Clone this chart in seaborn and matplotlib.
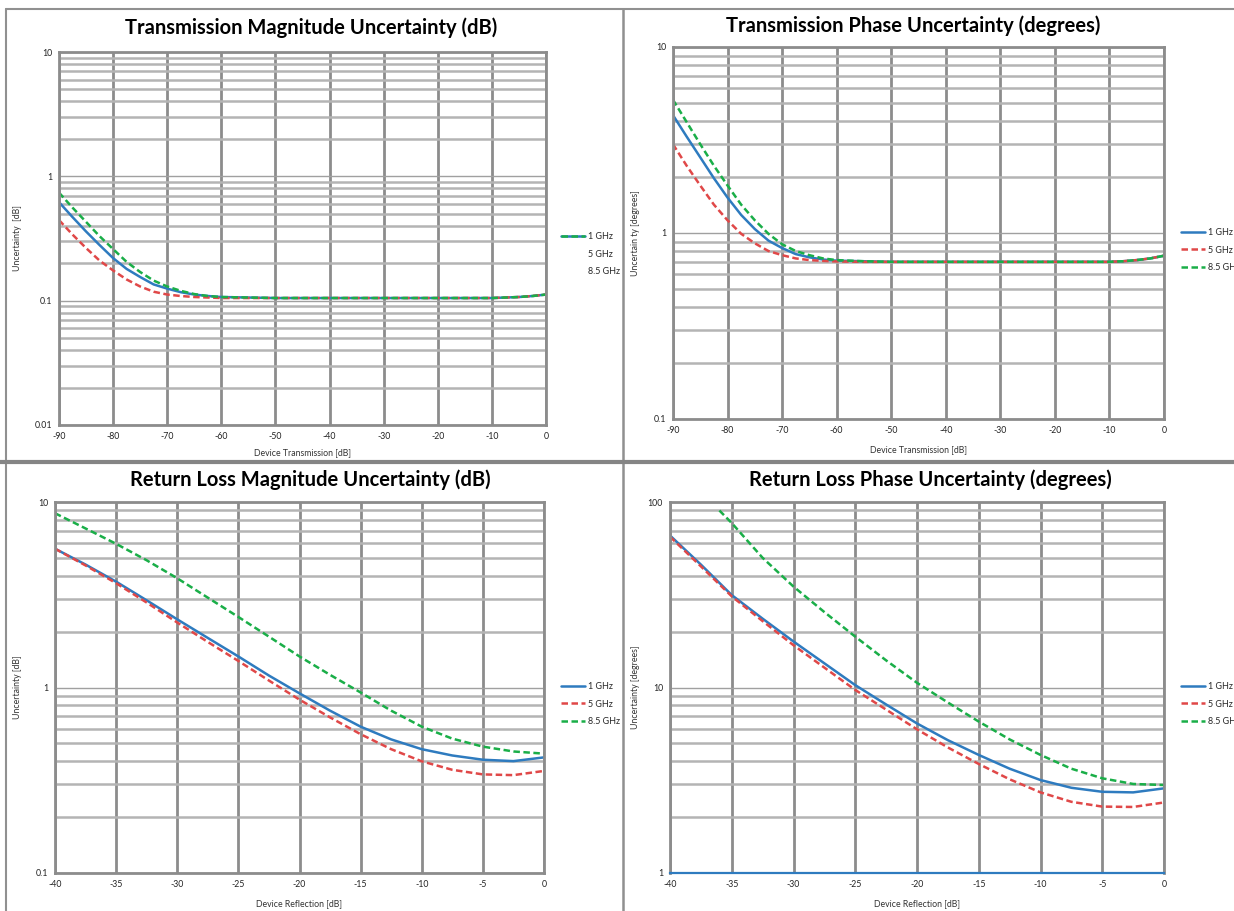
import matplotlib
matplotlib.use('Agg')
import matplotlib.pyplot as plt
import seaborn as sns
from matplotlib.lines import Line2D
from matplotlib.ticker import LogLocator, MultipleLocator, NullFormatter, NullLocator
from matplotlib.legend_handler import HandlerTuple

sns.set_theme(style='white')
plt.rcParams['font.family'] = ['Lato', 'DejaVu Sans']

series_names = ['1 GHz', '5 GHz', '8.5 GHz']

# transmission panels (x in dB)
tx_db = [-90, -87.5, -85, -82.5, -80, -77.5, -75, -72.5, -70, -67.5, -65, -62.5,
         -60, -55, -50, -40, -30, -20, -10, -7.5, -5, -2.5, 0]
tx_mag_1 = [0.62, 0.47, 0.36, 0.28, 0.22, 0.18, 0.155, 0.135, 0.125, 0.117, 0.112, 0.109,
            0.107, 0.106, 0.105, 0.105, 0.105, 0.105, 0.105, 0.106, 0.107, 0.109, 0.112]
tx_mag_5 = [0.445, 0.34, 0.265, 0.21, 0.175, 0.148, 0.13, 0.118, 0.112, 0.109, 0.107, 0.106,
            0.105, 0.105, 0.105, 0.105, 0.105, 0.105, 0.105, 0.106, 0.107, 0.109, 0.112]
tx_mag_85 = [0.74, 0.56, 0.43, 0.33, 0.26, 0.205, 0.17, 0.145, 0.13, 0.12, 0.113, 0.109,
             0.107, 0.106, 0.105, 0.105, 0.105, 0.105, 0.105, 0.106, 0.107, 0.109, 0.112]

tx_ph_1 = [4.3, 3.3, 2.55, 1.97, 1.55, 1.25, 1.05, 0.91, 0.83, 0.77, 0.74, 0.72,
           0.71, 0.705, 0.70, 0.70, 0.70, 0.70, 0.70, 0.705, 0.715, 0.73, 0.755]
tx_ph_5 = [3.0, 2.3, 1.8, 1.42, 1.17, 0.99, 0.88, 0.80, 0.76, 0.73, 0.715, 0.708,
           0.703, 0.70, 0.70, 0.70, 0.70, 0.70, 0.70, 0.705, 0.715, 0.73, 0.755]
tx_ph_85 = [5.2, 3.95, 3.0, 2.3, 1.8, 1.42, 1.17, 0.99, 0.87, 0.80, 0.76, 0.73,
            0.715, 0.705, 0.70, 0.70, 0.70, 0.70, 0.70, 0.705, 0.715, 0.73, 0.755]

# reflection panels
rl_db = [-40, -37.5, -35, -32.5, -30, -27.5, -25, -22.5, -20, -17.5, -15, -12.5,
         -10, -7.5, -5, -2.5, 0]
rl_mag_1 = [5.6, 4.6, 3.72, 2.95, 2.33, 1.85, 1.47, 1.16, 0.93, 0.75, 0.615, 0.525,
            0.465, 0.43, 0.408, 0.401, 0.42]
rl_mag_5 = [5.6, 4.55, 3.65, 2.87, 2.24, 1.76, 1.39, 1.09, 0.86, 0.69, 0.56, 0.465,
            0.40, 0.36, 0.34, 0.337, 0.355]
rl_mag_85 = [8.7, 7.2, 5.95, 4.85, 3.88, 3.05, 2.4, 1.88, 1.47, 1.17, 0.94, 0.75,
             0.615, 0.53, 0.48, 0.452, 0.44]

rl_ph_1 = [66, 46, 31.5, 23.5, 17.7, 13.5, 10.3, 8.1, 6.4, 5.2, 4.33, 3.65,
           3.17, 2.88, 2.74, 2.72, 2.86]
rl_ph_5 = [65, 45, 31, 22.8, 16.9, 12.8, 9.7, 7.6, 5.95, 4.75, 3.87, 3.2,
           2.72, 2.42, 2.28, 2.27, 2.4]
rl_db_85 = [-36, -35, -32.5, -30, -27.5, -25, -22.5, -20, -17.5, -15, -12.5,
            -10, -7.5, -5, -2.5, 0]
rl_ph_85 = [90, 77, 50, 35, 25.5, 18.8, 14.0, 10.6, 8.3, 6.55, 5.25,
            4.33, 3.65, 3.24, 3.02, 2.98]

tx_xticks = [-90, -80, -70, -60, -50, -40, -30, -20, -10, 0]
rl_xticks = [-40, -35, -30, -25, -20, -15, -10, -5, 0]
ticks_001_10 = [0.01, 0.1, 1, 10]
labels_001_10 = ['0.01', '0.1', '1', '10']
ticks_01_10 = [0.1, 1, 10]
labels_01_10 = ['0.1', '1', '10']
ticks_1_100 = [1, 10, 100]
labels_1_100 = ['1', '10', '100']

titles = ['Transmission Magnitude Uncertainty (dB)', 'Transmission Phase Uncertainty (degrees)',
          'Return Loss Magnitude Uncertainty (dB)', 'Return Loss Phase Uncertainty (degrees)']

BLUE = '#2e7bbf'
RED = '#e04848'
GREEN = '#1aae48'
GRID = '#8c8c8c'
MINOR = '#b4b4b4'
DASH = (0, (2.6, 1.4))

W, H = 1234, 911
fig = plt.figure(figsize=(W / 100, H / 100), dpi=100)
fig.patch.set_facecolor('white')


def px_box(l, r, t, b):
    return [l / W, 1 - b / H, (r - l) / W, (b - t) / H]


def fx(x):
    return x / W


def fy(y):
    return 1 - y / H


def draw_panel(box, xs, ys_list, xticks, yticks, ylabels, ylim, xlabel, ylabel, minor_x):
    ax = fig.add_axes(box)
    styles = [(BLUE, '-'), (RED, DASH), (GREEN, DASH)]
    for (x, y), (c, ls) in zip(zip(xs, ys_list), styles):
        sns.lineplot(x=x, y=y, ax=ax, color=c, linestyle=ls, linewidth=1.8)
    ax.set_yscale('log')
    ax.set_xlim(xticks[0], xticks[-1])
    ax.set_ylim(*ylim)
    ax.set_xticks(xticks)
    ax.set_xticklabels([str(t) for t in xticks])
    ax.set_yticks(yticks)
    ax.set_yticklabels(ylabels)
    ax.yaxis.set_minor_locator(LogLocator(base=10, subs=range(2, 10), numticks=20))
    ax.yaxis.set_minor_formatter(NullFormatter())
    if minor_x:
        ax.xaxis.set_minor_locator(MultipleLocator(minor_x))
    else:
        ax.xaxis.set_minor_locator(NullLocator())
    ax.grid(True, which='major', axis='x', color=GRID, linewidth=2)
    ax.grid(True, which='major', axis='y', color='#a0a0a0', linewidth=1)
    ax.grid(True, which='minor', axis='y', color=MINOR, linewidth=1.8)
    ax.set_axisbelow(True)
    ax.tick_params(axis='both', which='major', length=0, labelsize=6.3, pad=5, colors='#222222')
    ax.tick_params(axis='x', which='minor', direction='in', length=3, width=0.8, color=GRID)
    ax.tick_params(axis='y', which='minor', length=0)
    for s in ax.spines.values():
        s.set_color(GRID)
        s.set_linewidth(2)
    ax.set_xlabel(xlabel, fontsize=6.3, color='#333333')
    ax.set_ylabel(ylabel, fontsize=6.3, color='#333333')
    return ax


def add_legend(ax, x0, y0, handles):
    ax.legend(handles, series_names, loc='upper left', bbox_to_anchor=(fx(x0), fy(y0)),
              bbox_transform=fig.transFigure, frameon=False, fontsize=6.5,
              handlelength=2.7, handletextpad=0.3, labelspacing=0.95,
              borderpad=0, borderaxespad=0,
              handler_map={tuple: HandlerTuple(ndivide=1)})


def std_handles():
    return [Line2D([], [], color=BLUE, lw=1.8),
            Line2D([], [], color=RED, lw=1.8, ls=DASH),
            Line2D([], [], color=GREEN, lw=1.8, ls=DASH)]


# top left
ax1 = draw_panel(px_box(59, 546, 52, 425), [tx_db] * 3, [tx_mag_1, tx_mag_5, tx_mag_85],
                 tx_xticks, ticks_001_10, labels_001_10, (0.01, 10),
                 'Device Transmission [dB]', 'Uncertainty  [dB]', None)
ax1.xaxis.set_label_coords(0.5, -0.062)
ax1.yaxis.set_label_coords((22.5 - 59) / 487, 0.5)
h_overlay = (Line2D([], [], color=BLUE, lw=1.8), Line2D([], [], color=GREEN, lw=1.8, ls=DASH))
add_legend(ax1, 561, 232, [h_overlay, Line2D([], [], ls='none'), Line2D([], [], ls='none')])

# top right
ax2 = draw_panel(px_box(673, 1164, 47, 419), [tx_db] * 3, [tx_ph_1, tx_ph_5, tx_ph_85],
                 tx_xticks, ticks_01_10, labels_01_10, (0.1, 10),
                 'Device Transmission [dB]', 'Uncertain ty [degrees]', 2)
ax2.xaxis.set_label_coords(0.5, -0.07)
ax2.yaxis.set_label_coords((639.6 - 673) / 491, 0.5)
add_legend(ax2, 1181, 228, std_handles())

# bottom left
ax3 = draw_panel(px_box(55, 544, 502, 873), [rl_db] * 3, [rl_mag_1, rl_mag_5, rl_mag_85],
                 rl_xticks, ticks_01_10, labels_01_10, (0.1, 10),
                 'Device Reflection [dB]', 'Uncertainty [dB]', 1)
ax3.xaxis.set_label_coords(0.5, -0.07)
ax3.yaxis.set_label_coords((22.5 - 55) / 489, 0.5)
add_legend(ax3, 561, 682, std_handles())

# bottom right
ax4 = draw_panel(px_box(670, 1164, 502, 873), [rl_db, rl_db, rl_db_85], [rl_ph_1, rl_ph_5, rl_ph_85],
                 rl_xticks, ticks_1_100, labels_1_100, (1, 100),
                 'Device Reflection [dB]', 'Uncertainty [degrees]', 1)
ax4.xaxis.set_label_coords(0.5, -0.07)
ax4.yaxis.set_label_coords((639.6 - 670) / 494, 0.5)
ax4.spines['bottom'].set_color(BLUE)
ax4.spines['bottom'].set_linewidth(1.6)
ax4.tick_params(axis='x', which='minor', color=BLUE)
add_legend(ax4, 1181, 682, std_handles())

# titles
title_pos = [(311, 28), (913, 26), (310, 480), (930, 480)]
for t, (x, y) in zip(titles, title_pos):
    fig.text(fx(x), fy(y), t, ha='center', va='center', fontsize=14.5, fontweight='bold', color='black')

# panel frames
frame = dict(transform=fig.transFigure, color='#909090')
fig.add_artist(Line2D([fx(5.7), fx(5.7)], [fy(9), fy(911)], lw=1.5, **frame))
fig.add_artist(Line2D([fx(5.7), fx(1234)], [fy(9), fy(9)], lw=1.5, **frame))
fig.add_artist(Line2D([fx(623), fx(623)], [fy(9), fy(911)], lw=1.8, **frame))
fig.add_artist(Line2D([fx(0), fx(1234)], [fy(462), fy(462)], lw=3, transform=fig.transFigure, color='#858585'))

fig.savefig('out.png', dpi=100, facecolor='white')
